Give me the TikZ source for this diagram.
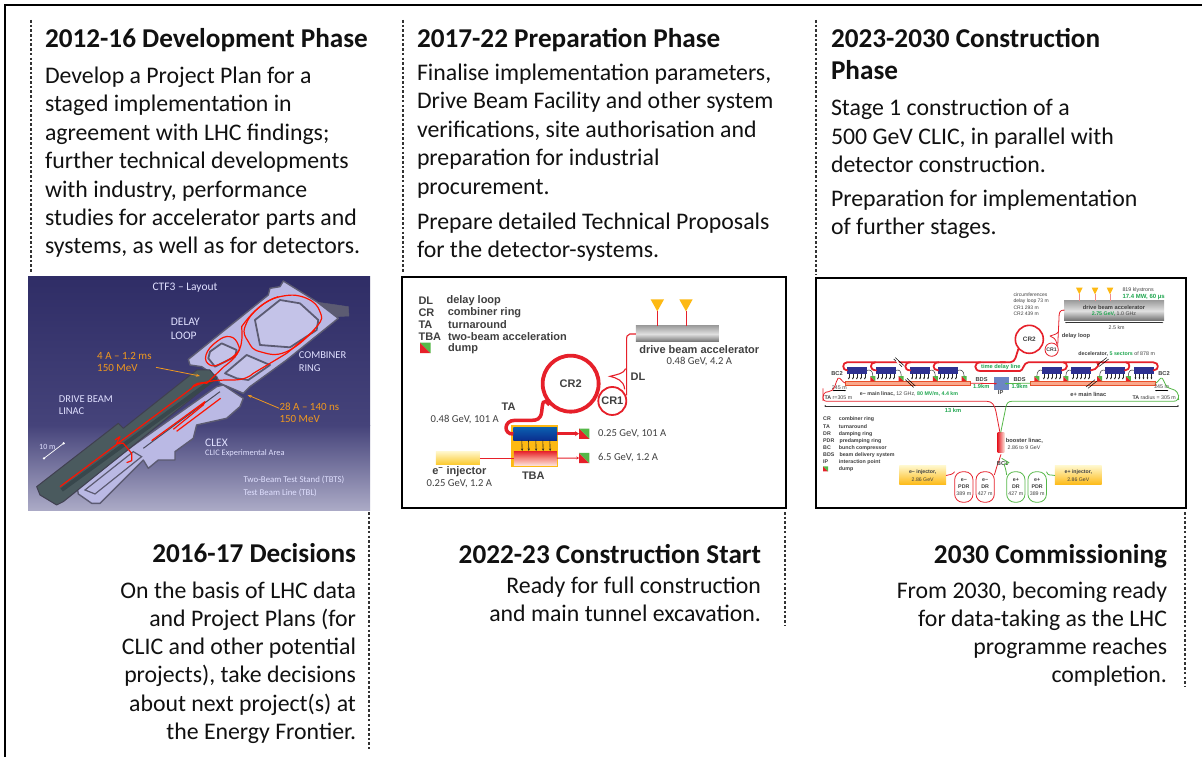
\documentclass[tikz,border=0pt]{standalone}
\usepackage{fontspec}
\setmainfont{Carlito}
\newfontfamily\hel{Liberation Sans}
\usetikzlibrary{arrows.meta,calc,shapes.geometric}
\definecolor{ink}{HTML}{111111}
\definecolor{gtext}{HTML}{404040}
\definecolor{rbeam}{HTML}{E6202A}
\definecolor{gbeam}{HTML}{55B848}
\definecolor{gtxt}{HTML}{1FA64F}
\definecolor{amber}{HTML}{F0981E}
\definecolor{lav}{HTML}{BAB9E4}
\definecolor{lavedge}{HTML}{5C5B72}
\definecolor{klyb}{HTML}{2E3192}
\definecolor{ybox}{HTML}{FDB913}
\definecolor{HTMLa}{HTML}{2F2D66}
\definecolor{HTMLb}{HTML}{45437A}
\definecolor{HTMLc}{HTML}{ABAAC6}
\definecolor{HTMLd}{HTML}{4A5A5E}
\definecolor{HTMLe}{HTML}{38474C}
\definecolor{HTMLf}{HTML}{A0A0A0}
\definecolor{HTMLg}{HTML}{E0E0E0}
\definecolor{HTMLh}{HTML}{707070}
\definecolor{HTMLi}{HTML}{0B5FB0}
\definecolor{HTMLj}{HTML}{0B2F8F}
\definecolor{HTMLk}{HTML}{FCE0D8}
\definecolor{HTMLl}{HTML}{F58A80}
\definecolor{HTMLm}{HTML}{FFF6C8}
\definecolor{HTMLn}{HTML}{FBC92C}
\definecolor{HTMLo}{HTML}{F9A88C}
\definecolor{HTMLp}{HTML}{E8502A}
\definecolor{HTMLq}{HTML}{6C86C4}
\definecolor{HTMLr}{HTML}{F08A8A}
\tikzset{
  frameline/.style={draw=black,line width=1.5pt},
  dotline/.style={draw=black!80,line width=2.6pt,dash pattern=on 2.6pt off 2.1pt},
  headtext/.style={inner sep=0pt,outer sep=0pt,text=ink,align=left,anchor=north west,font=\bfseries\fontsize{27.2}{32}\selectfont},
  headright/.style={inner sep=0pt,outer sep=0pt,text=ink,align=right,anchor=north east,font=\bfseries\fontsize{27.2}{32}\selectfont},
  bodyleft/.style={inner sep=0pt,outer sep=0pt,text=ink,align=left,anchor=north west,font=\fontsize{23.8}{28.4}\selectfont},
  bodyright/.style={inner sep=0pt,outer sep=0pt,text=ink,align=right,anchor=north east,font=\fontsize{23.8}{28.3}\selectfont},
  box/.style={inner sep=0pt,outer sep=0pt,rectangle},
  ctflabel/.style={inner sep=0pt,align=left,anchor=west,text=white!88!blue,font=\fontsize{10.5}{12.5}\selectfont},
  ctforange/.style={inner sep=0pt,align=left,anchor=west,text=amber,font=\fontsize{10.5}{12}\selectfont},
  wallroom/.style={fill=lav!85!white,draw=lavedge,line width=1.4pt,line join=round},
  beamctf/.style={draw=red!85!orange,line width=1.2pt,line join=round},
  ptwo/.style={inner sep=0pt,text=gtext,font=\fontsize{10.6}{12}\selectfont},
  ptwob/.style={inner sep=0pt,text=gtext,font=\hel\bfseries\fontsize{11}{12}\selectfont},
  tiny/.style={inner sep=0pt,text=gtext,font=\hel\fontsize{5.3}{6.4}\selectfont},
  tinyb/.style={inner sep=0pt,text=gtext,font=\hel\bfseries\fontsize{5.7}{6.8}\selectfont},
  tinyg/.style={inner sep=0pt,text=gtxt,font=\hel\bfseries\fontsize{5.7}{6.8}\selectfont},
  rthick/.style={draw=rbeam,line width=1.8pt,line join=round,line cap=round},
  rthin/.style={draw=rbeam,line width=.8pt,line join=round},
  gthin/.style={draw=gbeam,line width=.8pt,line join=round},
  klybox/.style={box,fill=klyb,minimum width=20pt,minimum height=6.7pt},
  feeder/.style={draw=black!80,line width=.5pt},
  dropper/.style={draw=black!85,line width=.5pt,-{Stealth[length=2pt,width=1.8pt]}},
  ringlabel/.style={inner sep=0pt,text=gtext,font=\hel\bfseries\fontsize{6.4}{7}\selectfont},
}
% dump square: name, centre, size in pt
\newcommand{\dumpmark}[3]{%
  \node[box,minimum size=#3,name=#1] at (#2) {};
  \fill[rbeam] (#1.north west) -- (#1.south east) -- (#1.south west) -- cycle;
  \fill[gbeam] (#1.north west) -- (#1.north east) -- (#1.south east) -- cycle;}
% klystron block with five droppers
\newcommand{\klyblock}[2]{%
  \node[klybox,name=#1] at (#2) {};
  \foreach \kx in {1.8,5.8,9.8,13.8,17.8}
    \draw[dropper] ($(#1.south west)+(\kx pt,0)$) -- ++(0,-5.8pt);}
\newcommand{\feedtri}[1]{%
  \fill[ybox] ($(#1)+(-6.7pt,12pt)$) -- ($(#1)+(6.7pt,12pt)$) -- (#1) -- cycle;}
\begin{document}
\begin{tikzpicture}[x=1pt,y=-1pt]
\useasboundingbox (0,0) rectangle (1202,757);
\fill[white] (0,0) rectangle (1202,757);
% outer frame
\coordinate (fa) at (5,757); \coordinate (fb) at (5,5); \coordinate (fc) at (1202,5);
\draw[frameline] (fa) -- (fb) -- (fc);
% dotted rules
\coordinate (d1a) at (31,20);  \coordinate (d1b) at (31,272);
\coordinate (d2a) at (403,20); \coordinate (d2b) at (403,272);
\coordinate (d3a) at (816,20); \coordinate (d3b) at (816,275);
\coordinate (d4a) at (369,512); \coordinate (d4b) at (369,749);
\coordinate (d5a) at (785,512); \coordinate (d5b) at (785,625);
\coordinate (d6a) at (1185,512); \coordinate (d6b) at (1185,687);
\draw[dotline] (d1a)--(d1b); \draw[dotline] (d2a)--(d2b); \draw[dotline] (d3a)--(d3b);
\draw[dotline] (d4a)--(d4b); \draw[dotline] (d5a)--(d5b); \draw[dotline] (d6a)--(d6b);
% top texts
\node[headtext] (h1) at (45,28) {2012-16 Development Phase};
\node[bodyleft] (b1) at (45,67) {Develop a Project Plan for a\\staged implementation in\\agreement with LHC findings;\\further technical developments\\with industry, performance\\studies for accelerator parts and\\systems, as well as for detectors.};
\node[headtext] (h2) at (417,28) {2017-22 Preparation Phase};
\node[bodyleft] (b2) at (417,64) {Finalise implementation parameters,\\Drive Beam Facility and other system\\verifications, site authorisation and\\preparation for industrial\\procurement.};
\node[bodyleft] (b2b) at (417,212.5) {Prepare detailed Technical Proposals\\for the detector-systems.};
\node[headtext] (h3) at (831,28) {2023-2030 Construction\\Phase};
\node[bodyleft] (b3) at (831,99.5) {Stage 1 construction of a\\500 GeV CLIC, in parallel with\\detector construction.};
\node[bodyleft] (b3b) at (831,189.5) {Preparation for implementation\\of further stages.};
% bottom texts
\node[headright] (h4) at (356,543) {2016-17 Decisions};
\node[bodyright] (b4) at (356,581.5) {On the basis of LHC data\\and Project Plans (for\\CLIC and other potential\\projects), take decisions\\about next project(s) at\\the Energy Frontier.};
\node[headright] (h5) at (761,544) {2022-23 Construction Start};
\node[bodyright] (b5) at (761,576.5) {Ready for full construction\\and main tunnel excavation.};
\node[headright] (h6) at (1167,544) {2030 Commissioning};
\node[bodyright] (b6) at (1167,581.5) {From 2030, becoming ready\\for data-taking as the LHC\\programme reaches\\completion.};

% ---------- panel 1: CTF3 layout
\shade[top color=HTMLa,bottom color=HTMLb] (28,276) rectangle (370,425);
\shade[top color=HTMLb,bottom color=HTMLc] (28,425) rectangle (370,510);
\begin{scope}[xshift=20pt,yshift=-270pt,x=.3333pt,y=-.3333pt]
% CLEX hall
\filldraw[wallroom,fill=lav] (172,655)--(335,530)--(590,350)--(610,345)--(670,385)--(660,410)--(620,445)--(530,465)--(520,505)--(465,545)--(465,570)--(415,570)--(385,595)--(370,570)--(240,700)--(215,700)--(175,672)--cycle;
\draw[lavedge,line width=1.2pt] (195,660)--(340,545)--(365,560)--(225,672)--cycle;
\draw[lavedge!80!black,line width=1pt] (370,535)--(600,365);
% Upper hall
\filldraw[lavedge,line width=.5pt] (895,97)--(985,110)--(987,138)--(950,140)--cycle;
\filldraw[wallroom,fill=lav] (505,268)--(745,75)--(750,55)--(780,50)--(790,33)--(890,95)--(955,145)--(800,270)--(690,350)--(670,370)--(600,340)--(590,320)--(545,290)--(510,285)--cycle;
% Linac
\filldraw[draw=lavedge!70!black,fill=HTMLd,line width=1pt,line join=round] (50,650)--(295,460)--(310,475)--(530,300)--(570,300)--(590,325)--(130,695)--(110,705)--(60,675)--cycle;
\draw[HTMLe,line width=4pt] (125,660)--(585,325);
% Rooms
\filldraw[wallroom,line width=1.8pt] (705,150)--(780,90)--(840,100)--(895,150)--(890,180)--(810,232)--(720,225)--cycle;
\filldraw[wallroom,line width=1.8pt] (570,245)--(605,220)--(650,240)--(645,260)--(585,290)--(565,265)--cycle;
\filldraw[wallroom,line width=1.8pt] (615,310)--(680,255)--(750,285)--(685,330)--(650,325)--cycle;
% Beams
\draw[beamctf] (120,650)--(515,355) .. controls (520,340) and (545,335) .. (560,340)--(612,290) .. controls (660,255) and (670,230) .. (665,170) .. controls (700,120) and (740,90) .. (775,80);
\draw[beamctf] plot[smooth cycle,tension=.75] coordinates {(675,170) (720,110) (790,78) (860,85) (900,125) (890,170) (800,245) (720,245) (685,215)};
\draw[beamctf] plot[smooth cycle,tension=.8] coordinates {(558,255) (590,215) (630,200) (655,225) (650,250) (605,280) (570,285)};
\draw[beamctf] (520,350) .. controls (560,330) and (600,330) .. (640,330) .. controls (670,330) and (690,320) .. (700,310)--(800,250)--(885,180);
\draw[beamctf] (395,512)--(555,395)--(550,405)--(460,478);
\draw[beamctf] (470,484)--(602,385);
\draw[beamctf] (285,510)--(300,500)--(290,520)--(310,520)--(335,550)--(335,572)--(320,578);
% Arrows
\coordinate (oa1) at (408,292); \coordinate (ob1) at (540,318);
\coordinate (oa2) at (778,415); \coordinate (ob2) at (683,375);
\draw[amber,line width=.8pt,-{Stealth[length=4pt,width=3pt]}] (oa1)--(ob1);
\draw[amber,line width=.8pt,-{Stealth[length=4pt,width=3pt]}] (oa2)--(ob2);
\coordinate (sa) at (72,565); \coordinate (sb) at (131,520);
\draw[white,line width=.7pt] (sa)--(sb);
\fill[white] (sa) circle (1.3pt) (sb) circle (1.3pt);
% Labels
\node[ctflabel,font=\fontsize{11.5}{13}\selectfont] (t1a) at (397,53) {CTF3 – Layout};
\node[ctflabel,font=\fontsize{11.5}{14}\selectfont] (t1b) at (452,178) {DELAY\\LOOP};
\node[ctflabel] (t1c) at (836,275) {COMBINER\\RING};
\node[ctflabel] (t1d) at (116,405) {DRIVE BEAM\\LINAC};
\node[ctforange,font=\fontsize{11}{12}\selectfont] (t1e) at (231,276) {4 A – 1.2 ms\\150 MeV};
\node[ctforange,font=\fontsize{11}{12}\selectfont] (t1f) at (778,427) {28 A – 140 ns\\150 MeV};
\node[ctflabel,font=\fontsize{8}{10}\selectfont] (t1g) at (57,530) {10 m};
\node[ctflabel,font=\fontsize{11.5}{13}\selectfont] (t1h) at (555,517) {CLEX};
\node[ctflabel,font=\fontsize{8.4}{10}\selectfont] (t1i) at (555,550) {CLIC Experimental Area};
\node[ctflabel,font=\fontsize{8.8}{10}\selectfont] (t1j) at (670,631) {Two-Beam Test Stand (TBTS)};
\node[ctflabel,font=\fontsize{8.8}{10}\selectfont] (t1k) at (670,670) {Test Beam Line (TBL)};
\end{scope}

% ---------- panel 2
\draw[black,line width=1.1pt] (402,277) rectangle (786,508);
\begin{scope}[xshift=400pt,yshift=-272pt,x=.3333pt,y=-.3333pt]
\node[ptwob,anchor=west] (l1a) at (55,86) {DL}; \node[ptwob,anchor=west] (l1b) at (139,86) {delay loop};
\node[ptwob,anchor=west] (l2a) at (55,122) {CR}; \node[ptwob,anchor=west] (l2b) at (143,122) {combiner ring};
\node[ptwob,anchor=west] (l3a) at (55,158) {TA}; \node[ptwob,anchor=west] (l3b) at (144,158) {turnaround};
\node[ptwob,anchor=west] (l4a) at (55,194) {TBA}; \node[ptwob,anchor=west] (l4b) at (144,194) {two-beam acceleration};
\dumpmark{d2l}{76,228}{10.5pt}
\node[ptwob,anchor=west] (l5b) at (144,230) {dump};
% accelerator
\node[box,name=dba,minimum width=83pt,minimum height=16pt,top color=HTMLf,bottom color=HTMLh,middle color=HTMLg] at (832,186) {};
\coordinate (k1) at (772,118); \coordinate (k2) at (858,118);
\feedtri{k1}\feedtri{k2}
\draw[rbeam,line width=.9pt] (k1)--(k1|-dba.north);
\draw[rbeam,line width=.9pt] (k2)--(k2|-dba.north);
\node[ptwob] (dbat) at (898,232) {drive beam accelerator};
\node[ptwo] (dbav) at (898,268) {0.48 GeV, 4.2 A};
% rings
\node[circle,name=cr2,draw=rbeam,line width=3.8pt,minimum size=56pt,inner sep=0pt,ptwob] at (512,335) {CR2};
\node[circle,name=cr1,draw=rbeam,line width=1.8pt,minimum size=28pt,inner sep=0pt,ptwob] at (637,387) {CR1};
\draw[rbeam,line width=1.1pt,line join=round] (dba.west) -- ++(-18,0) .. controls (680,187) and (680,195) .. (680,205) -- (680,370);
\draw[rbeam,line width=1.1pt] (677,290) .. controls (672,305) and (650,308) .. (630,313) .. controls (650,318) and (672,325) .. (674,352);
\node[ptwob] (dl) at (714,314) {DL};
% TBA
\node[box,name=tba,minimum width=46.7pt,minimum height=41.7pt,fill=ybox] at (403,522) {};
\node[box,name=drv,minimum width=43.7pt,minimum height=12.7pt,top color=HTMLi,bottom color=HTMLj] at (405.5,485) {};
\node[box,name=mnb,minimum width=43pt,minimum height=14.3pt,top color=rbeam,bottom color=HTMLk,middle color=HTMLl] at (406.5,558.5) {};
\foreach \ax in {-40,-20,2,23,44}
  \draw[black!85,line width=.6pt,-{Stealth[length=2.6pt,width=2.2pt]}] ($(drv.south)+(\ax,0)$) -- ($(mnb.north)+(\ax,0)$);
\draw[rbeam,line width=3.5pt] (cr2.225) .. controls (428,375) and (428,395) .. (425,420) .. controls (422,442) and (410,445) .. (395,445) -- (345,445) .. controls (310,445) and (310,488) .. (340,486);
\dumpmark{d2a}{552.5,485}{10.3pt}
\dumpmark{d2b}{552.5,558}{10.3pt}
\draw[rbeam,line width=2.6pt,-{Stealth[length=4pt,width=5pt]}] (drv.east) -- (d2a.west);
\draw[rbeam,line width=1pt,-{Stealth[length=2.5pt,width=3pt]}] (mnb.east) -- (d2b.west);
\node[box,name=inj,minimum width=44pt,minimum height=13pt,top color=HTMLm,bottom color=HTMLn] at (174,558.5) {};
\draw[rbeam,line width=1.1pt] (inj.east) -- (mnb.west);
\node[ptwob] (injt) at (178,599) {e\textsuperscript{−} injector};
\node[ptwo] (injv) at (178,635) {0.25 GeV, 1.2 A};
\node[ptwob] (tbat) at (400,610) {TBA};
\node[ptwob] (tat) at (326,404) {TA};
\node[ptwo] (tav) at (194,443) {0.48 GeV, 101 A};
\node[ptwo,anchor=west] (v1) at (594,485) {0.25 GeV, 101 A};
\node[ptwo,anchor=west] (v2) at (594,557) {6.5 GeV, 1.2 A};
\end{scope}

% ---------- panel 3
\draw[black,line width=1.1pt] (816,278) rectangle (1186,508);
% left half of the top
\begin{scope}[xshift=812pt,yshift=-275pt,x=.3333pt,y=-.3333pt]
\node[box,name=lin1,minimum width=125pt,minimum height=4.4pt,fill=HTMLo,draw=HTMLp,line width=.4pt] at (287.5,324.5) {};
\klyblock{ka}{135,286}\klyblock{kb}{222,286}\klyblock{kc}{324.5,286}\klyblock{kd}{408,286}
\dumpmark{da}{182.5,311}{5pt}\dumpmark{db}{267.5,311}{5pt}\dumpmark{dc}{370,311}{5pt}\dumpmark{dd}{456.5,311}{5pt}
\draw[feeder] (ka.east) .. controls (175,283) and (183,288) .. (da.north);
\draw[feeder] (kb.east) .. controls (262,283) and (268,288) .. (db.north);
\draw[feeder] (kc.east) .. controls (362,283) and (370,288) .. (dc.north);
\draw[feeder] (kd.east) .. controls (448,283) and (456,288) .. (dd.north);
\draw[rthick] (ka.west) .. controls (90,286) and (90,262) .. (105,262) -- (580,262);
\draw[rthick] (kb.west) .. controls (172,286) and (172,262) .. (190,262);
\draw[rthick] (kc.west) .. controls (275,286) and (275,262) .. (295,262);
\draw[rthick] (kd.west) .. controls (360,286) and (360,262) .. (380,262);
\draw[rthick] (580,288) -- (505,288) .. controls (485,288) and (485,262) .. (505,262);
\draw[black,line width=.5pt] (245,252)--(270,275) (250,248)--(275,271);
\draw[white,line width=1.6pt] (254,258)--(262,268);
\draw[black,line width=.5pt] (280,314)--(305,337) (285,310)--(310,333);
\node[tinyg,anchor=west] (tdl) at (507,275) {time delay line};
\node[tinyb] (bc2a) at (75,296) {BC2};
\node[tiny] (m245a) at (82,337) {245 m};
\draw[black,line width=.4pt,{Stealth[length=1.5pt]}-{Stealth[length=1.5pt]}] (62,347)--(102,347);
\draw[rthin] (lin1.west) .. controls (90,322) and (85,305) .. (78,310) .. controls (70,320) and (70,350) .. (50,350) .. controls (35,350) and (32,360) .. (33,378);
\node[tinyb,anchor=west] (bdsa) at (490,315) {BDS};
\node[tinyg,anchor=west] (bdsb) at (483,335) {1.9km};
\node[tiny,anchor=west] (mla) at (143,357) {\textbf{e− main linac,} 12 GHz, \textcolor{gtxt}{\textbf{80 MV/m, 4.4 km}}};
\node[tiny,anchor=west] (taa) at (37,367) {\textbf{TA} r=305 m};
\node[box,name=ip,minimum width=5.7pt,minimum height=12.7pt,fill=HTMLq] at (555,326) {};
\draw[rbeam,line width=.8pt,-{Stealth[length=2.5pt,width=2pt]}] (lin1.east) -- (ip.center);
\node[tinyb] (ipt) at (566,352) {IP};
\end{scope}
% right half of the top
\begin{scope}[xshift=1000pt,yshift=-275pt,x=.3333pt,y=-.3333pt]
\node[box,name=lin2,minimum width=125pt,minimum height=4.4pt,fill=HTMLo,draw=HTMLp,line width=.4pt] at (279.5,324.5) {};
\node[box,name=ipr,minimum width=9pt,minimum height=12.7pt,fill=HTMLq] at (13.5,326) {};
\klyblock{ke}{156,286}\klyblock{kf}{243,286}\klyblock{kg}{345,286}\klyblock{kh}{431,286}
\dumpmark{de}{110.5,311}{5pt}\dumpmark{df}{197.5,311}{5pt}\dumpmark{dg}{299,311}{5pt}\dumpmark{dh}{385,311}{5pt}
\draw[feeder] (ke.west) .. controls (118,283) and (111,288) .. (de.north);
\draw[feeder] (kf.west) .. controls (205,283) and (198,288) .. (df.north);
\draw[feeder] (kg.west) .. controls (306,283) and (299,288) .. (dg.north);
\draw[feeder] (kh.west) .. controls (392,283) and (385,288) .. (dh.north);
\draw[rthick] (0,262) -- (30,262) .. controls (48,262) and (48,240) .. (55,222);
\draw[rthick] (0,288) -- (60,288) .. controls (70,288) and (70,262) .. (85,262) -- (460,262) .. controls (478,262) and (478,286) .. (kh.east);
\draw[rthick] (190,262) .. controls (205,262) and (205,286) .. (ke.east);
\draw[rthick] (290,262) .. controls (305,262) and (290,286) .. (kf.east);
\draw[rthick] (378,262) .. controls (392,262) and (392,286) .. (kg.east);
\draw[black,line width=.5pt] (292,270)--(320,248) (298,274)--(326,252);
\draw[black,line width=.5pt] (258,336)--(285,314) (264,340)--(291,318);
\node[box,name=dbb,minimum width=100pt,minimum height=19.7pt,top color=HTMLf,bottom color=HTMLh,middle color=HTMLg] at (342,107.5) {};
\coordinate (m1) at (238,58); \coordinate (m2) at (285,58); \coordinate (m3) at (330,58);
\foreach \m in {m1,m2,m3} {
  \fill[ybox] ($(\m)+(-3.3pt,6.7pt)$) -- ($(\m)+(3.3pt,6.7pt)$) -- (\m) -- cycle;
  \draw[HTMLr,line width=.8pt] (\m) -- (\m|-dbb.north);}
\node[tinyb] (dbbt) at (342,96) {drive beam accelerator};
\node[tiny] (dbbv) at (342,116) {\textcolor{gtxt}{\textbf{2.75 GeV,}} 1.0 GHz};
\draw[black!80,line width=.4pt,{Stealth[length=1.5pt]}-{Stealth[length=1.5pt]}] (195,143)--(490,143);
\node[tiny] (k25) at (350,158) {2.5 km};
\node[tiny,anchor=west] (kl) at (367,45) {819 klystrons};
\node[tinyg,anchor=west,font=\hel\bfseries\fontsize{6}{6.4}\selectfont] (mw) at (367,65) {17.4 MW, 60 µs};
\node[tiny,anchor=north west,align=left,font=\hel\fontsize{5}{6.3}\selectfont] (cf) at (40,53) {circumferences\\delay loop 73 m\\CR1 293 m\\CR2 439 m};
\node[circle,name=cr2b,draw=rbeam,line width=1.6pt,minimum size=28pt,inner sep=0pt,ringlabel] at (88,193) {CR2};
\node[circle,name=cr1b,draw=rbeam,line width=.8pt,minimum size=13.3pt,inner sep=0pt,ringlabel,font=\hel\bfseries\fontsize{5.2}{6}\selectfont] at (155,224) {CR1};
\draw[rthin] (dbb.west) -- (192,105) .. controls (178,105) and (177,115) .. (177,130) -- (173,215);
\draw[rthin] (174,172) .. controls (170,178) and (158,180) .. (150,183) .. controls (158,186) and (168,190) .. (171,208);
\node[tinyb,anchor=west] (dlp) at (185,183) {delay loop};
\node[tiny] (dec) at (350,236) {\textbf{decelerator,} \textcolor{gtxt}{\textbf{5 sectors}} of 878 m};
\draw[gbeam,line width=.8pt,-{Stealth[length=2.5pt,width=2pt]}] (lin2.west) -- (ipr.center);
\node[tinyb,anchor=west] (bdsc) at (40,315) {BDS};
\node[tinyg,anchor=west] (bdsd) at (34,335) {1.9km};
\node[tinyb] (bc2b) at (492,296) {BC2};
\node[tiny] (m245b) at (485,335) {245 m};
\draw[black,line width=.4pt,{Stealth[length=1.5pt]}-{Stealth[length=1.5pt]}] (465,347)--(505,347);
\node[tinyb] (mlb) at (265,357) {e+ main linac};
\node[tiny,anchor=west] (tab) at (397,367) {\textbf{TA} radius = 305 m};
\draw[gthin] (lin2.east) .. controls (475,322) and (480,305) .. (487,310) .. controls (495,320) and (495,340) .. (515,342) .. controls (530,345) and (537,355) .. (536,375);
\end{scope}
% lower parts
\begin{scope}[xshift=812pt,yshift=-395pt,x=.3333pt,y=-.3333pt]
\coordinate (scl) at (40,33); \coordinate (scr) at (1098,33);
\draw[black!80,line width=.8pt] (scl)--(scr);
\fill[black!80] (scl) circle (.9pt) (scr) circle (.9pt);
\node[tinyg] (km13) at (423,47) {13 km};
\foreach \yy/\aa/\ab/\xb in {71/CR/combiner ring/80,95/TA/turnaround/80,116/DR/damping ring/80,137/PDR/predamping ring/82,158/BC/bunch compressor/80,179/BDS/beam delivery system/82,200/IP/interaction point/80}{
  \node[tinyb,anchor=west,font=\hel\bfseries\fontsize{5.3}{6}\selectfont] at (33,\yy) {\aa};
  \node[tinyb,anchor=west,font=\hel\bfseries\fontsize{5.3}{6}\selectfont] at (\xb,\yy) {\ab};}
\dumpmark{dl3}{41,222}{5pt}
\node[tinyb,anchor=west,font=\hel\bfseries\fontsize{5.3}{6}\selectfont] (dumpt3) at (80,222) {dump};
\node[box,name=inje,minimum width=46.7pt,minimum height=19pt,top color=HTMLm,bottom color=ybox] at (332,241.5) {};
\node[tinyb,align=center,font=\hel\fontsize{5.2}{7.4}\selectfont] (injet) at (332,241.5) {\textbf{e− injector,}\\2.86 GeV};
\node[box,name=pdrm,draw=rbeam,line width=.8pt,rounded corners=8pt,minimum width=18.3pt,minimum height=30.5pt,align=center,tinyb,font=\hel\fontsize{5.3}{7.2}\selectfont] at (455.5,276) {\textbf{e−}\\\textbf{PDR}\\389 m};
\node[box,name=drm,draw=rbeam,line width=.8pt,rounded corners=8pt,minimum width=18.3pt,minimum height=30.5pt,align=center,tinyb,font=\hel\fontsize{5.3}{7.2}\selectfont] at (519.5,276) {\textbf{e−}\\\textbf{DR}\\427 m};
\draw[rthin] (inje.east) .. controls (415,238) and (420,240) .. (pdrm.north west);
\draw[rthin] (547,240) .. controls (552,225) and (555,210) .. (560,200) -- (567,178);
\node[box,name=booster,minimum width=6.7pt,minimum height=19.7pt,left color=rbeam,right color=HTMLk] at (567,143) {};
\node[tinyb] (bc1) at (572,206) {BC1};
\draw[rthin] (33,-20) -- (33,8) .. controls (33,18) and (40,19) .. (50,19) -- (525,19) .. controls (540,19) and (548,30) .. (552,50) -- (564,113);
\end{scope}
\begin{scope}[xshift=1000pt,yshift=-395pt,x=.3333pt,y=-.3333pt]
\node[box,name=pdrp,draw=gbeam,line width=.8pt,rounded corners=8pt,minimum width=18.5pt,minimum height=30.5pt,align=center,tinyb,font=\hel\fontsize{5.3}{7.2}\selectfont] at (111.5,276) {\textbf{e+}\\\textbf{PDR}\\389 m};
\node[box,name=drp,draw=gbeam,line width=.8pt,rounded corners=8pt,minimum width=18.3pt,minimum height=30.5pt,align=center,tinyb,font=\hel\fontsize{5.3}{7.2}\selectfont] at (47.5,276) {\textbf{e+}\\\textbf{DR}\\427 m};
\node[box,name=injp,minimum width=46.7pt,minimum height=19pt,top color=HTMLm,bottom color=ybox] at (235,241.5) {};
\node[tinyb,align=center,font=\hel\fontsize{5.2}{7.4}\selectfont] (injpt) at (235,241.5) {\textbf{e+ injector,}\\2.86 GeV};
\draw[gthin] (injp.west) .. controls (152,238) and (145,245) .. (pdrp.north east);
\draw[gthin] (20,240) .. controls (18,225) and (15,215) .. (12,208) -- (27,203) -- (5,190);
\node[tinyb,anchor=west] (boost) at (17,137) {booster linac,};
\node[tiny] (boostv) at (72,158) {2.86 to 9 GeV};
\draw[gthin] (2,113) -- (18,35) .. controls (20,25) and (25,19) .. (35,19) -- (520,19) .. controls (533,19) and (536,10) .. (536,0);
\end{scope}
\end{tikzpicture}
\end{document}
